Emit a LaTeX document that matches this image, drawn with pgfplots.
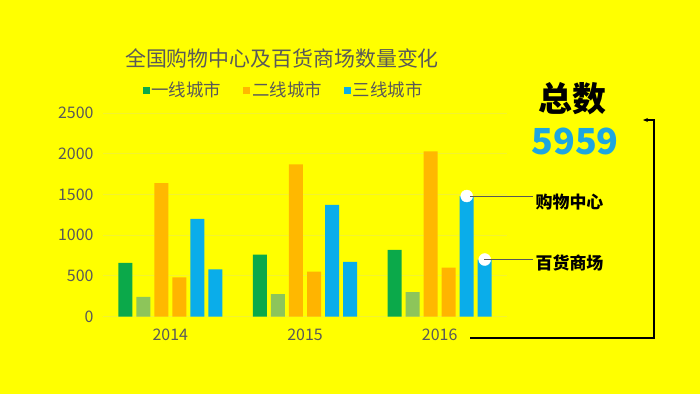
\documentclass[border=0pt]{standalone}
\usepackage{pgfplots}
\pgfplotsset{compat=1.18}
\usepackage{fontspec}
\setmainfont{Noto Sans CJK SC}
\usetikzlibrary{arrows.meta}
\definecolor{bg}{HTML}{FFFF00}
\definecolor{gridc}{HTML}{F2F230}
\definecolor{dgreen}{HTML}{0BA94A}
\definecolor{lgreen}{HTML}{8DC55A}
\definecolor{orng}{HTML}{FFB800}
\definecolor{lorng}{HTML}{FFB400}
\definecolor{blu}{HTML}{0AADEA}
\definecolor{txtgray}{HTML}{595959}
\definecolor{numblue}{HTML}{1EA6E0}
\begin{document}
\begin{tikzpicture}[x=1bp,y=1bp]
\fill[bg] (-103,-77.5) rectangle (597,316.5);
\useasboundingbox (-103,-77.5) rectangle (597,316.5);
\begin{axis}[
  at={(0,0)}, anchor=south west,
  scale only axis, width=404bp, height=203.5bp,
  xmin=-0.5, xmax=2.5, ymin=0, ymax=2500,
  xtick={0,1,2}, xticklabels={2014,2015,2016},
  ytick={0,500,1000,1500,2000,2500},
  ymajorgrids, grid style={draw=gridc, line width=0.8bp},
  axis line style={draw=none}, major tick style={draw=none},
  /pgf/number format/assume math mode=true,
  /pgf/number format/1000 sep={},
  tick label style={font=\fontsize{16}{16}\selectfont, text=txtgray},
  yticklabel style={xshift=-6bp},
  xticklabel style={yshift=-9bp},
  clip=false,
  legend columns=3,
  legend style={at={(0.447,1.113)}, anchor=center, draw=none, fill=none,
    font=\fontsize{17.5}{17.5}\selectfont, text=txtgray,
    /tikz/every even column/.append style={column sep=20bp},
    inner sep=0pt},
  legend image code/.code={\fill[#1] (0bp,-3.5bp) rectangle (7bp,3.5bp);},
]
\addplot[ybar, bar width=0.104, bar shift=0pt, fill=dgreen, draw=none]
  coordinates {(-0.3346,660) (0.6654,760) (1.6654,820)};
\addlegendentry{一线城市}
\addplot[ybar, bar width=0.104, bar shift=0pt, fill=lgreen, draw=none, forget plot]
  coordinates {(-0.2007,240) (0.7993,275) (1.7993,300)};
\addplot[ybar, bar width=0.104, bar shift=0pt, fill=orng, draw=none]
  coordinates {(-0.0669,1640) (0.9331,1870) (1.9331,2030)};
\addlegendentry{二线城市}
\addplot[ybar, bar width=0.104, bar shift=0pt, fill=lorng, draw=none, forget plot]
  coordinates {(0.0669,480) (1.0669,550) (2.0669,600)};
\addplot[ybar, bar width=0.104, bar shift=0pt, fill=blu, draw=none]
  coordinates {(0.2007,1200) (1.2007,1370) (2.2007,1480)};
\addlegendentry{三线城市}
\addplot[ybar, bar width=0.104, bar shift=0pt, fill=blu, draw=none, forget plot]
  coordinates {(0.3346,580) (1.3346,670) (2.3346,700)};
\addplot[only marks, mark=*, mark size=6bp, mark options={fill=white, draw=white}, forget plot]
  coordinates {(2.2007,1480) (2.3346,700)};
\end{axis}
\node[text=txtgray, font=\fontsize{21}{21}\selectfont] at (179,258.5) {全国购物中心及百货商场数量变化};
\draw[gray!70!black, line width=0.6bp] (367,120.5) -- (430,120.5);
\draw[gray!70!black, line width=0.6bp] (381,57) -- (430,57);
\node[font=\fontsize{34}{34}\selectfont\bfseries] at (469,217.5) {总数};
\node[font=\fontsize{36}{36}\selectfont\bfseries, text=numblue] at (472,175.5) {5959};
\node[font=\fontsize{17}{17}\selectfont\bfseries] at (466.5,114.5) {购物中心};
\node[font=\fontsize{17}{17}\selectfont\bfseries] at (466.5,53.5) {百货商场};
\draw[black, line width=1.2bp, -{Stealth[length=5bp,width=4bp]}] (367,-21.5) -- (551,-21.5) -- (551,196.5) -- (540,196.5);
\end{tikzpicture}
\end{document}
